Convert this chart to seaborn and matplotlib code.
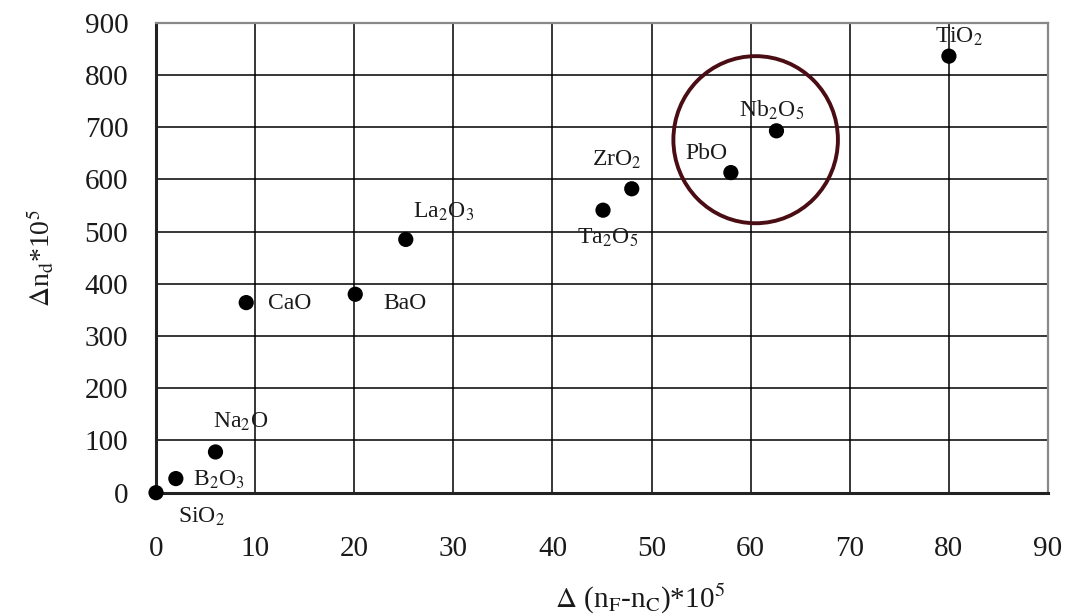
import matplotlib
matplotlib.use("Agg")
import matplotlib.pyplot as plt
import seaborn as sns
import pandas as pd
from matplotlib.patches import Ellipse

oxides = ["SiO$_2$", "B$_2$O$_3$", "Na$_2$O", "CaO", "BaO", "La$_2$O$_3$",
          "Ta$_2$O$_5$", "ZrO$_2$", "PbO", "Nb$_2$O$_5$", "TiO$_2$"]
dispersion = [0, 2, 6, 9.1, 20.1, 25.2, 45.1, 48, 58, 62.6, 80]
delta_nd = [0, 27, 78, 364, 380, 485, 541, 582, 613, 693, 836]
# label anchor offsets (in points) relative to each dot
label_dx = [16, 12.5, -2, 16, 20, 5, -18.5, -28.6, -33, -27, -10]
label_dy = [-17.5, -1, 21.6, -1, -7, 20, -20, 21, 13.5, 15, 14]

x_ticks = list(range(0, 91, 10))
y_ticks = list(range(0, 901, 100))

sns.set_theme(style="white")
plt.rcParams["font.family"] = ["Liberation Serif", "DejaVu Serif"]
plt.rcParams["mathtext.fontset"] = "stix"

fig = plt.figure(figsize=(10.82, 6.16), dpi=100)
ax = fig.add_axes([0.1442, 0.2002, 0.8244, 0.7629])

df = pd.DataFrame({"x": dispersion, "y": delta_nd, "name": oxides})
sns.scatterplot(data=df, x="x", y="y", ax=ax, color="black", s=120,
                edgecolor="none", zorder=5, clip_on=False)

for xv, yv, name, dx, dy in zip(dispersion, delta_nd, oxides, label_dx, label_dy):
    ax.annotate(name, (xv, yv), xytext=(dx, dy), textcoords="offset points",
                fontsize=17, ha="left", va="center", color="#1a1a1a", zorder=6)

ax.add_patch(Ellipse((60.5, 676), 16.6, 320, fill=False, edgecolor="#4a0d14",
                     linewidth=2.8, zorder=4))

ax.set_xlim(0, 90)
ax.set_ylim(0, 900)
ax.set_xticks(x_ticks)
ax.set_yticks(y_ticks)
ax.grid(True, color="black", linewidth=1.1)
ax.set_axisbelow(True)
ax.tick_params(axis="both", labelsize=21, length=0, colors="#1a1a1a")
ax.tick_params(axis="y", pad=20)
ax.tick_params(axis="x", pad=31)

for side in ["left", "bottom"]:
    ax.spines[side].set_color("#222222")
    ax.spines[side].set_linewidth(2.2)
for side in ["top", "right"]:
    ax.spines[side].set_color("#888888")
    ax.spines[side].set_linewidth(1.6)

ax.set_xlabel("$\\Delta$ (n$_{\\rm F}$-n$_{\\rm C}$)*10$^5$", fontsize=21, color="#1a1a1a")
ax.set_ylabel("$\\Delta$n$_{\\rm d}$*10$^5$", fontsize=20, color="#1a1a1a")
ax.yaxis.set_label_coords(-0.112, 0.5)
ax.xaxis.set_label_coords(0.543, -0.19)

fig.savefig("out.png", dpi=100)
